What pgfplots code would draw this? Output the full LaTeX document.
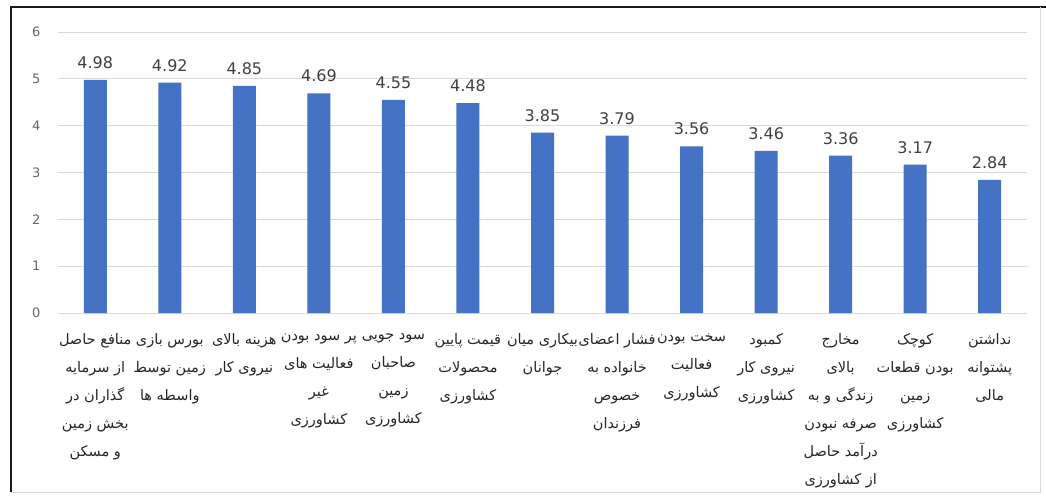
\documentclass[border=0pt]{standalone}
\usepackage{pgfplots}
\pgfplotsset{compat=1.18}
\usepackage{fontspec}
\setmainfont{DejaVu Sans}
\newfontfamily\arabicfont[Script=Arabic]{DejaVu Sans}
\TeXXeTstate=1
\definecolor{barblue}{RGB}{68,114,196}
\begin{document}
\begin{tikzpicture}
\path[use as bounding box] (-58pt,-184pt) rectangle (988pt,313pt);
\draw[line width=1.6pt, black!90] (-47pt,-179pt) -- (-47pt,306pt) -- (988pt,306pt);
\draw[line width=0.8pt, black!15] (982pt,306pt) -- (982pt,-179pt) -- (-47pt,-179pt);
\begin{axis}[
  at={(0pt,0pt)}, anchor=south west,
  scale only axis, width=969pt, height=281pt,
  xmin=-0.5, xmax=12.5, ymin=0, ymax=6,
  axis line style={draw=none},
  ymajorgrids, grid style={black!15, line width=0.8pt},
  major tick length=0pt,
  ytick={0,1,2,3,4,5,6},
  xtick={0,1,2,3,4,5,6,7,8,9,10,11,12},
  /pgf/number format/assume math mode=true,
  yticklabel style={font=\fontsize{13}{15}\selectfont, text=black!60, xshift=-14pt},
  xticklabel style={font=\arabicfont\fontsize{14.5}{28}\selectfont, align=center, anchor=north, yshift=-17pt, text=black!85},
  xticklabels={
    {\beginR منافع حاصل\endR\\\beginR از سرمایه\endR\\\beginR گذاران در\endR\\\beginR بخش زمین\endR\\\beginR و مسکن\endR},
    {\beginR بورس بازی\endR\\\beginR زمین توسط\endR\\\beginR واسطه ها\endR},
    {\beginR هزینه بالای\endR\\\beginR نیروی کار\endR},
    {\beginR پر سود بودن\endR\\\beginR فعالیت های\endR\\\beginR غیر\endR\\\beginR کشاورزی\endR},
    {\beginR سود جویی\endR\\\beginR صاحبان\endR\\\beginR زمین\endR\\\beginR کشاورزی\endR},
    {\beginR قیمت پایین\endR\\\beginR محصولات\endR\\\beginR کشاورزی\endR},
    {\beginR بیکاری میان\endR\\\beginR جوانان\endR},
    {\beginR فشار اعضای\endR\\\beginR خانواده به\endR\\\beginR خصوص\endR\\\beginR فرزندان\endR},
    {\beginR سخت بودن\endR\\\beginR فعالیت\endR\\\beginR کشاورزی\endR},
    {\beginR کمبود\endR\\\beginR نیروی کار\endR\\\beginR کشاورزی\endR},
    {\beginR مخارج\endR\\\beginR بالای\endR\\\beginR زندگی و به\endR\\\beginR صرفه نبودن\endR\\\beginR درآمد حاصل\endR\\\beginR از کشاورزی\endR},
    {\beginR کوچک\endR\\\beginR بودن قطعات\endR\\\beginR زمین\endR\\\beginR کشاورزی\endR},
    {\beginR نداشتن\endR\\\beginR پشتوانه\endR\\\beginR مالی\endR}
  },
  ybar, bar width=23pt,
  nodes near coords={\pgfmathprintnumber[fixed,fixed zerofill,precision=2]{\pgfplotspointmeta}},
  nodes near coords style={font=\fontsize{16}{18}\selectfont, text=black!75, anchor=south, inner sep=0pt, yshift=11pt},
]
\addplot[fill=barblue, draw=none] coordinates {
  (0,4.98) (1,4.92) (2,4.85) (3,4.69) (4,4.55) (5,4.48) (6,3.85)
  (7,3.79) (8,3.56) (9,3.46) (10,3.36) (11,3.17) (12,2.84)
};
\end{axis}
\end{tikzpicture}
\end{document}
